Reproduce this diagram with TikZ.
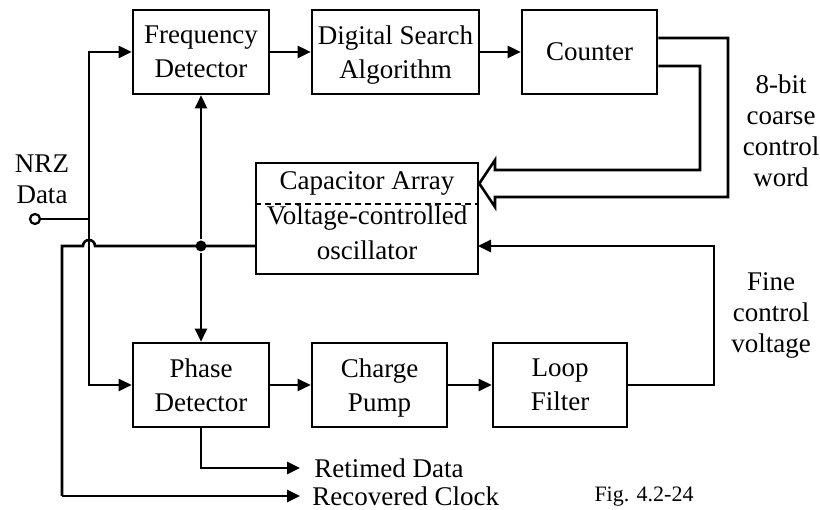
\documentclass[tikz,border=0pt]{standalone}
\usepackage{fontspec}
\setmainfont{Liberation Serif}
\usetikzlibrary{arrows.meta,calc}
\begin{document}
\begin{tikzpicture}[x=1pt,y=-1pt,
  line width=2.6pt,
  every node/.style={font=\fontsize{27}{34}\selectfont, inner sep=0pt},
  blk/.style={draw, rectangle, align=center, minimum height=84pt, text depth=0pt},
  arr/.style={-{Triangle[length=13pt,width=12pt]}},
  lbl/.style={align=center, font=\fontsize{27}{31}\selectfont},
  dot/.style={circle, fill, minimum size=11pt, inner sep=0pt},
  pin/.style={circle, draw, fill=white, minimum size=10pt, inner sep=0pt, line width=2.2pt}]
\useasboundingbox (0,0) rectangle (820,510);

% blocks
\node[blk, minimum width=136pt] (fd) at (201,52) {Frequency\\Detector};
\node[blk, minimum width=167pt] (dsa) at (395.5,52) {Digital Search\\Algorithm};
\node[blk, minimum width=135pt] (cnt) at (589.5,52) {Counter};
\node[blk, minimum width=136pt] (pd) at (201,385) {Phase\\Detector};
\node[blk, minimum width=135pt] (cp) at (379.5,385) {Charge\\Pump};
\node[blk, minimum width=134pt] (lf) at (560,385) {Loop\\Filter};
\node[draw, rectangle, minimum width=222pt, minimum height=111pt] (vco) at (367,218.5) {};
\draw[line width=2pt, dash pattern=on 6pt off 4pt] (vco.west |- 0,204) -- (vco.east |- 0,204);
\node (cap) at (367,183) {Capacitor Array};
\node (vc1) at (367,218) {Voltage-controlled};
\node (vc2) at (367,250) {oscillator};

% labels
\node[lbl] (nrzl) at (42,179) {NRZ\\Data};
\node[lbl] (coarse) at (781,131) {8-bit\\coarse\\control\\word};
\node[lbl] (fine) at (771,315) {Fine\\control\\voltage};
\node[anchor=west] (rd) at (313,468) {Retimed Data};
\node[anchor=west] (rc) at (311,496) {Recovered Clock};
\node[font=\fontsize{22}{26}\selectfont] (fig) at (644,497) {Fig. 4.2-24};

% input
\node[pin] (nrz) at (35,219) {};
\coordinate (j1) at (89,219);
\draw (nrz.east) -- (j1);
\draw[arr] (j1) |- (fd.west);
\draw[arr] (j1) |- (pd.west);

% forward chain
\draw[arr] (fd) -- (dsa);
\draw[arr] (dsa) -- (cnt);
\draw[arr] (pd) -- (cp);
\draw[arr] (cp) -- (lf);

% VCO output
\coordinate (vout) at (256,246);
\node[dot] (jd) at (201,246) {};
\coordinate (clk) at (300,496);
\draw (vout) -- (jd.center) -- (95,246) arc[start angle=0, end angle=180, radius=6pt] -- (62,246) -- (62,496);
\draw[arr] (62,496) -- (clk);
\draw[arr] (jd) -- (fd.south);
\draw[arr] (jd) -- (pd.north);

% retimed data
\coordinate (rdo) at (300,468);
\draw[arr] (pd.south) |- (rdo);

% fine control
\coordinate (vin) at (478,246);
\draw[arr] (lf.east) -| (714,246) -- (vin);

% coarse control bus (block arrow)
\draw[line join=miter] ($(cnt.east)+(0,-14)$) -- (728,38) -- (728,197) -- (495,197) -- (495,207) -- (vco.east |- 0,183.5) -- (495,160) -- (495,170) -- (700,170) -- (700,66) -- ($(cnt.east)+(0,14)$);
\end{tikzpicture}
\end{document}
